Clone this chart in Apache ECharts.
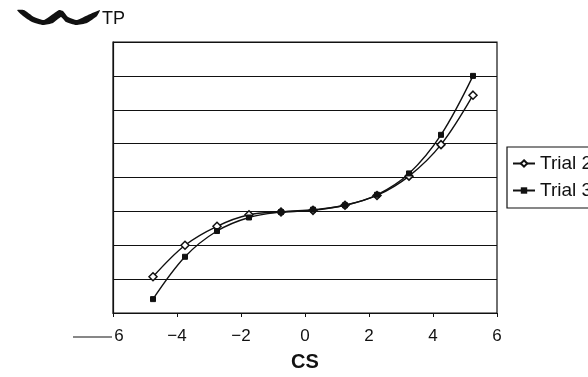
<!DOCTYPE html>
<html>
<head>
<meta charset="utf-8">
<script src="https://cdn.jsdelivr.net/npm/echarts@6/dist/echarts.min.js"></script>
<style>
  html, body { margin: 0; padding: 0; background: #fff; }
  #chart { width: 588px; height: 377px; }
</style>
</head>
<body>
<div id="chart"></div>
<script>
// CS values at which both trials were measured
const csValues = [-4.75, -3.75, -2.75, -1.75, -0.75, 0.25, 1.25, 2.25, 3.25, 4.25, 5.25];
// TP response for each trial
const trial2 = [-1.93, -1.0, -0.44, -0.1, -0.02, 0.03, 0.18, 0.47, 1.04, 1.97, 3.43];
const trial3 = [-2.59, -1.34, -0.58, -0.18, -0.02, 0.05, 0.18, 0.49, 1.12, 2.26, 4.0];
const seriesNames = ['Trial 2', 'Trial 3'];
const xTicks = [-6, -4, -2, 0, 2, 4, 6];

const pairs = (xs, ys) => xs.map((x, i) => [x, ys[i]]);
const font = 'Arial, "Liberation Sans", Helvetica, sans-serif';

const chart = echarts.init(document.getElementById('chart'));
chart.setOption({
  animation: false,
  backgroundColor: '#fff',
  grid: {
    left: 113, right: 91, top: 42, bottom: 64,
    show: true, borderColor: '#111', borderWidth: 1.2, backgroundColor: 'transparent'
  },
  title: {
    text: 'TP', left: 97, top: 5,
    textStyle: { fontFamily: font, fontSize: 18, fontWeight: 'normal', color: '#111' }
  },
  legend: {
    orient: 'vertical', left: 507, top: 147,
    data: seriesNames,
    borderColor: '#111', borderWidth: 1.2,
    padding: [7, 10, 8, 5],
    itemWidth: 22, itemHeight: 8, itemGap: 8,
    textStyle: { fontFamily: font, fontSize: 19, color: '#111' }
  },
  xAxis: {
    type: 'value', min: xTicks[0], max: xTicks[xTicks.length - 1], interval: 2,
    axisLine: { show: true, onZero: false, lineStyle: { color: '#111', width: 1.2 } },
    axisTick: { show: true, length: 4, lineStyle: { color: '#111' } },
    splitLine: { show: false },
    axisLabel: {
      margin: 15,
      fontFamily: font, fontSize: 17, color: '#111',
      formatter: v => v === -6 ? '{s|6}' : String(v).replace('-', '\u2212'),
      rich: { s: { fontFamily: font, fontSize: 17, color: '#111', padding: [0, 0, 0, 12] } }
    },
    name: 'CS', nameLocation: 'middle', nameGap: 39,
    nameTextStyle: { fontFamily: font, fontSize: 20, fontWeight: 'bold', color: '#111' }
  },
  yAxis: {
    type: 'value', min: -3, max: 5, interval: 1,
    axisLine: { show: true, onZero: false, lineStyle: { color: '#111', width: 1.2 } },
    axisTick: { show: false },
    axisLabel: { show: false },
    splitLine: { show: true, lineStyle: { color: '#111', width: 1.2 } }
  },
  series: [
    {
      name: seriesNames[0], type: 'line', smooth: 0.35,
      data: pairs(csValues, trial2),
      symbol: 'diamond', symbolSize: 8,
      lineStyle: { color: '#111', width: 1.4 },
      itemStyle: { color: '#fff', borderColor: '#111', borderWidth: 1.5 }
    },
    {
      name: seriesNames[1], type: 'line', smooth: 0.35,
      data: pairs(csValues, trial3),
      symbol: 'rect', symbolSize: 5,
      lineStyle: { color: '#111', width: 1.4 },
      itemStyle: { color: '#111', borderColor: '#111' }
    }
  ],
  graphic: [
    // swoosh mark before the TP heading
    {
      type: 'polygon',
      shape: {
        points: [[17, 10], [24, 10], [34, 17], [44, 20], [53, 14], [59, 10], [63, 11],
                 [68, 17], [77, 20], [88, 15], [100, 10], [97, 16], [87, 23], [76, 25],
                 [66, 22], [61, 17], [53, 23], [43, 25], [32, 22], [23, 16]],
        smooth: 0.15
      },
      style: { fill: '#111' }
    },
    // long dash in front of the leftmost tick label
    {
      type: 'line',
      shape: { x1: 73, y1: 337, x2: 112, y2: 337 },
      style: { stroke: '#111', lineWidth: 1.2 }
    }
  ]
});
</script>
</body>
</html>
